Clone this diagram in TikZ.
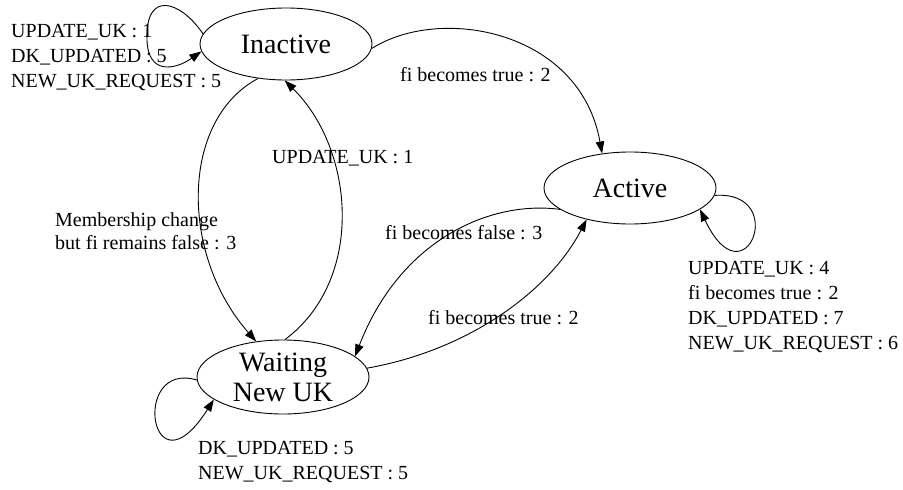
\documentclass[tikz,border=0pt]{standalone}
\usepackage{fontspec}
\setmainfont{Liberation Serif}
\usetikzlibrary{shapes.geometric,arrows.meta}
\begin{document}
\begin{tikzpicture}[x=1pt,y=-1pt,
  state/.style={draw,ellipse,line width=0.9pt,minimum width=172pt,minimum height=72pt,inner sep=0pt,font=\fontsize{28}{31}\selectfont},
  lbl/.style={inner sep=0pt,anchor=west,align=left,font=\fontsize{20}{25}\selectfont},
  edge/.style={line width=0.9pt,-{Triangle[length=12pt,width=8.5pt]}}]
\path[fill=white,use as bounding box] (0,0) rectangle (903,490);
\node[state] (in) at (286,44) {Inactive};
\node[state] (ac) at (630,188) {Active};
\node[state,minimum height=74pt] (wa) at (283,377) {};
\node[font=\fontsize{28}{30}\selectfont,align=center,inner sep=0pt] (wat) at (wa.center) {Waiting\\New UK};
% loops
\draw[edge] (in.173) .. controls (180,0) and (145,-10) .. (147,40) .. controls (148,75) and (175,70) .. (in.185);
\draw[edge] (ac.-5) .. controls (790,190) and (745,305) .. (ac.-17);
\draw[edge] (wa.182) .. controls (130,360) and (150,500) .. (wa.198);
% transitions
\draw[edge] (in.-3) .. controls (440,5) and (580,30) .. (ac.129);
\draw[edge] (in.231) .. controls (180,120) and (180,255) .. (wa.127);
\draw[edge] (wa.87) .. controls (365,280) and (355,150) .. (in.268);
\draw[edge] (ac.197) .. controls (490,200) and (400,240) .. (wa.16);
\draw[edge] (wa.6) .. controls (470,350) and (550,290) .. (ac.216);
% labels
\node[lbl] (l1) at (11,58) {UPDATE\_UK : 1\\DK\_UPDATED : 5\\NEW\_UK\_REQUEST : 5};
\node[lbl] (l2) at (400,75) {fi becomes true : 2};
\node[lbl] (l3) at (272,158) {UPDATE\_UK : 1};
\node[lbl,font=\fontsize{20}{23}\selectfont] (l4) at (55,231.5) {Membership change\\but fi remains false : 3};
\node[lbl] (l5) at (385,233) {fi becomes false : 3};
\node[lbl] (l6) at (428,318) {fi becomes true : 2};
\node[lbl] (l7) at (688,307.5) {UPDATE\_UK : 4\\fi becomes true : 2\\DK\_UPDATED : 7\\NEW\_UK\_REQUEST : 6};
\node[lbl] (l8) at (198,462.5) {DK\_UPDATED : 5\\NEW\_UK\_REQUEST : 5};
\end{tikzpicture}
\end{document}
